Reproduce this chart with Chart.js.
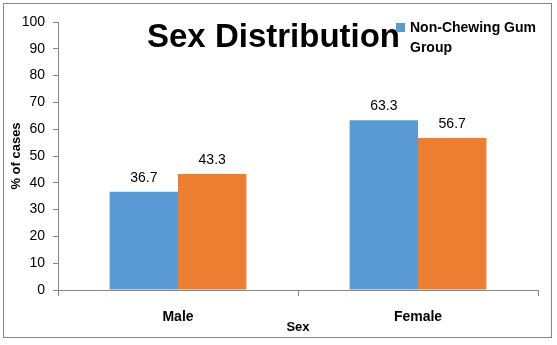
<!DOCTYPE html>
<html>
<head>
<meta charset="utf-8">
<script src="https://cdn.jsdelivr.net/npm/chart.js@4.4.0/dist/chart.umd.min.js"></script>
<style>
  html, body { margin: 0; padding: 0; background: #fff; }
</style>
</head>
<body>
<canvas id="sexChart" width="557" height="345"></canvas>
<script>
  /* --- Data --- */
  const categories = ['Male', 'Female'];
  const seriesNames = ['Non-Chewing Gum Group', 'Chewing Gum Group'];
  const nonChewingValues = [36.7, 63.3];
  const chewingValues = [43.3, 56.7];
  const yTicks = [0, 10, 20, 30, 40, 50, 60, 70, 80, 90, 100];

  const FONT = "'Liberation Sans', Arial, sans-serif";
  const AXIS_GRAY = '#868686';

  // frame, title, value labels and the (single-entry) legend
  const decorations = {
    id: 'decorations',
    beforeDraw(chart) {
      const ctx = chart.ctx;
      ctx.save();
      ctx.fillStyle = '#fff';
      ctx.fillRect(0, 0, chart.width, chart.height);
      ctx.strokeStyle = AXIS_GRAY;
      ctx.lineWidth = 1;
      ctx.strokeRect(3.5, 3.5, 548, 334);
      ctx.restore();
    },
    afterDatasetsDraw(chart) {
      const ctx = chart.ctx;
      ctx.save();
      ctx.font = '14px ' + FONT;
      ctx.fillStyle = '#000';
      ctx.textAlign = 'center';
      ctx.textBaseline = 'alphabetic';
      chart.data.datasets.forEach((ds, i) => {
        chart.getDatasetMeta(i).data.forEach((bar, j) => {
          ctx.fillText(ds.data[j].toFixed(1), bar.x, bar.y - 10);
        });
      });

      // title
      ctx.font = 'bold 33px ' + FONT;
      ctx.textAlign = 'left';
      ctx.fillText('Sex Distribution', 147, 47);

      // legend: only the first series is shown, wrapped over two lines
      ctx.fillStyle = chart.data.datasets[0].backgroundColor;
      ctx.fillRect(396, 23, 9, 9);
      ctx.fillStyle = '#000';
      ctx.font = 'bold 14px ' + FONT;
      const words = seriesNames[0].split(' ');
      ctx.fillText(words.slice(0, 2).join(' '), 410, 32);
      ctx.fillText(words.slice(2).join(' '), 410, 52);
      ctx.restore();
    }
  };

  new Chart(document.getElementById('sexChart').getContext('2d'), {
    type: 'bar',
    data: {
      labels: categories,
      datasets: [{
        label: seriesNames[0],
        data: nonChewingValues,
        backgroundColor: '#5B9BD5'
      }, {
        label: seriesNames[1],
        data: chewingValues,
        backgroundColor: '#ED7D31'
      }]
    },
    options: {
      responsive: false,
      animation: false,
      layout: { padding: { top: 22, right: 19, bottom: 0, left: 0 } },
      categoryPercentage: 0.57,
      barPercentage: 1,
      scales: {
        x: {
          grid: {
            offset: true,
            drawOnChartArea: false,
            drawTicks: true,
            tickLength: 6,
            color: AXIS_GRAY
          },
          border: { color: AXIS_GRAY },
          ticks: {
            padding: 13,
            color: '#000',
            font: { family: FONT, size: 14, weight: 'bold' }
          },
          title: {
            display: true,
            text: 'Sex',
            color: '#000',
            padding: { top: 0, bottom: 10 },
            font: { family: FONT, size: 13, weight: 'bold' }
          },
          afterFit(scale) { scale.height = 55; }
        },
        y: {
          min: 0,
          max: 100,
          afterBuildTicks(scale) { scale.ticks = yTicks.map(v => ({ value: v })); },
          grid: {
            drawOnChartArea: false,
            drawTicks: true,
            tickLength: 5,
            color: AXIS_GRAY
          },
          border: { color: AXIS_GRAY },
          ticks: {
            padding: 8,
            color: '#000',
            font: { family: FONT, size: 14 }
          },
          title: {
            display: true,
            text: '% of cases',
            color: '#000',
            padding: { top: 9, bottom: 0 },
            font: { family: FONT, size: 13, weight: 'bold' }
          },
          afterFit(scale) { scale.width = 58; }
        }
      },
      plugins: {
        legend: { display: false },
        title: { display: false },
        tooltip: { enabled: false }
      }
    },
    plugins: [decorations]
  });
</script>
</body>
</html>
